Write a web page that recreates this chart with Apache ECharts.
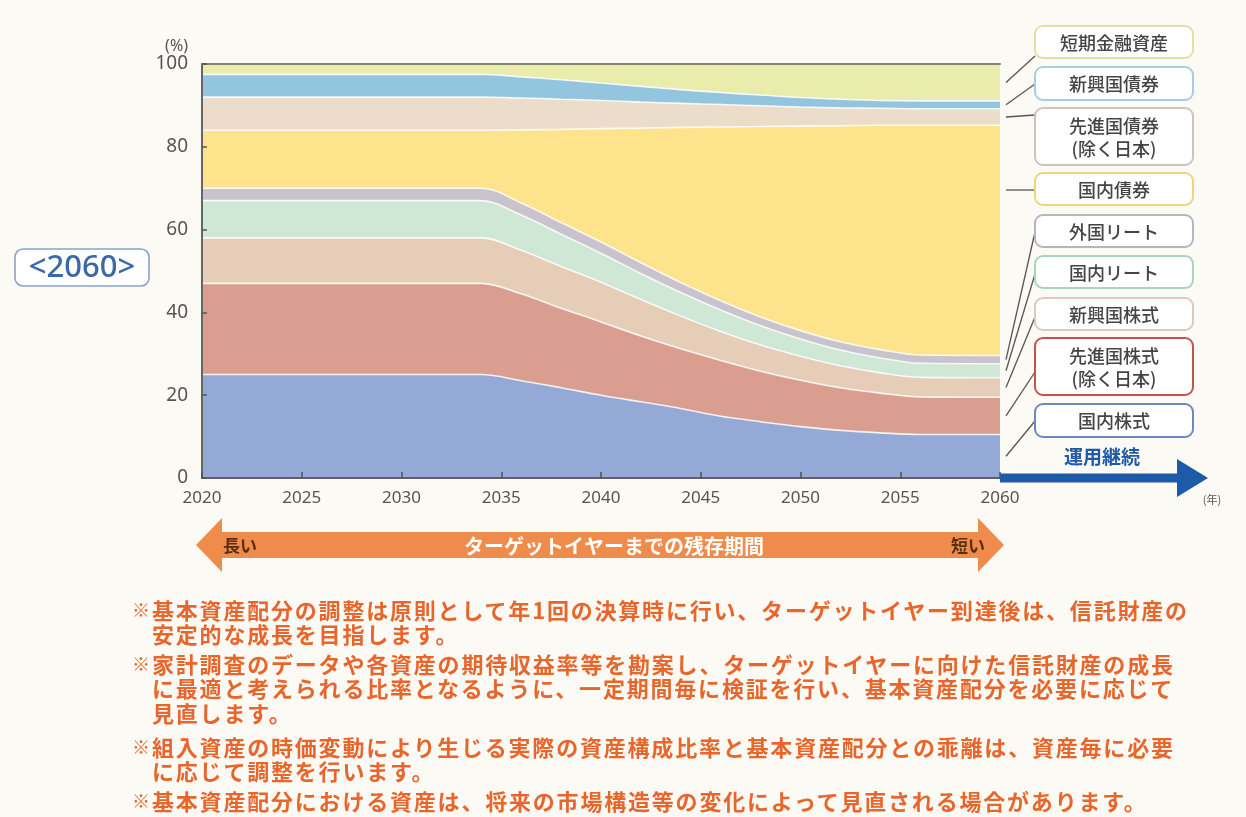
<!DOCTYPE html>
<html><head><meta charset="utf-8">
<script src="https://cdn.jsdelivr.net/npm/echarts@6/dist/echarts.min.js"></script>
<style>
html,body{margin:0;padding:0;background:#fcfaf4;}
#chart{position:absolute;left:0;top:0;width:1246px;height:817px;}
.note{position:absolute;font-family:"Noto Sans CJK JP";font-weight:700;font-size:22px;color:#e8662b;letter-spacing:1.8px;white-space:nowrap;line-height:24px;height:24px;}
</style></head><body>
<div id="chart"></div>
<div id="notes"></div>
<script>
// ---- data (percent of portfolio by year) ----
const years          = [2020, 2032, 2034, 2036, 2038, 2040, 2042, 2044, 2046, 2048, 2050, 2052, 2054, 2056, 2060];
const domesticStock  = [25, 25, 25, 23.5, 21.8, 20.0, 18.4, 16.8, 14.9, 13.6, 12.4, 11.5, 10.9, 10.5, 10.5];
const developedStock = [22, 22, 22, 21, 19.2, 17.7, 15.9, 14.4, 13.5, 12.2, 11.2, 10.3, 9.6, 9.1, 9.0];
const emergingStock  = [11, 11, 11, 10.5, 10.1, 9.6, 8.8, 7.9, 7.0, 6.3, 5.8, 5.3, 4.9, 4.7, 4.7];
const domesticReit   = [9, 9, 9, 8.5, 7.8, 7.0, 6.3, 5.7, 5.2, 4.7, 4.2, 3.8, 3.6, 3.4, 3.4];
const foreignReit    = [3, 3, 3, 2.9, 2.8, 2.7, 2.6, 2.4, 2.2, 2.1, 2.0, 2.0, 2.0, 2.0, 2.0];
const domesticBond   = [14, 14, 14, 17.7, 22.5, 27.4, 32.5, 37.5, 42.0, 46.0, 49.4, 52.2, 54.2, 55.5, 55.6];
const developedBond  = [8, 8, 8, 7.7, 7.3, 6.8, 6.3, 5.8, 5.4, 5.0, 4.6, 4.3, 4.1, 4.0, 4.0];
const emergingBond   = [5.5, 5.5, 5.5, 5.1, 4.7, 4.2, 3.8, 3.3, 2.9, 2.6, 2.3, 2.1, 1.9, 1.9, 1.9];
const shortTerm      = [2.5, 2.5, 2.5, 3.1, 3.8, 4.6, 5.4, 6.2, 6.9, 7.5, 8.1, 8.5, 8.8, 8.9, 8.9];

const yTicks = [0, 20, 40, 60, 80, 100];
const xTicks = [2020, 2025, 2030, 2035, 2040, 2045, 2050, 2055, 2060];

const assetNames  = ['国内株式', '先進国株式', '新興国株式', '国内リート', '外国リート', '国内債券', '先進国債券', '新興国債券', '短期金融資産'];
const legendTexts = ['国内株式', '先進国株式\n(除く日本)', '新興国株式', '国内リート', '外国リート', '国内債券', '先進国債券\n(除く日本)', '新興国債券', '短期金融資産'];
const assetData   = [domesticStock, developedStock, emergingStock, domesticReit, foreignReit, domesticBond, developedBond, emergingBond, shortTerm];

const bigLabel = '<2060>';
const arrowLeft = '長い', arrowMid = 'ターゲットイヤーまでの残存期間', arrowRight = '短い';
const continueLabel = '運用継続';
const yearUnit = '(年)';
const notes = [
  ['※', '基本資産配分の調整は原則として年1回の決算時に行い、ターゲットイヤー到達後は、信託財産の'],
  ['',  '安定的な成長を目指します。'],
  ['※', '家計調査のデータや各資産の期待収益率等を勘案し、ターゲットイヤーに向けた信託財産の成長'],
  ['',  'に最適と考えられる比率となるように、一定期間毎に検証を行い、基本資産配分を必要に応じて'],
  ['',  '見直します。'],
  ['※', '組入資産の時価変動により生じる実際の資産構成比率と基本資産配分との乖離は、資産毎に必要'],
  ['',  'に応じて調整を行います。'],
  ['※', '基本資産配分における資産は、将来の市場構造等の変化によって見直される場合があります。']
];

// ---- styles ----
const areaColors   = ['#94a9d5', '#d99e8f', '#e6cdb8', '#cfe7d5', '#c9c3cd', '#fde48c', '#ecdcca', '#93c6de', '#e9ecab'];
const borderColors = ['#6f87ba', '#c2544e', '#dbcabd', '#a9d5ba', '#b9b5bc', '#efd579', '#cdc5bd', '#a6cde0', '#dfe2a2'];
const boxTops      = [404, 338, 298, 256, 215, 173, 108, 67, 26];
const boxHeights   = [33, 57, 32, 32, 32, 32, 57, 33, 32];
const connectEndY  = [421, 372, 317, 274, 232, 190, 115, 84, 56];

const JP = '"Noto Sans CJK JP", "Noto Sans", sans-serif';

const chart = echarts.init(document.getElementById('chart'), null, {renderer: 'canvas'});

// cumulative tops (stacking built from the per-asset arrays)
const cumTop = [];
assetData.forEach((d, i) => {
  cumTop.push(d.map((v, k) => (i === 0 ? 0 : cumTop[i - 1][k]) + v));
});

const series = assetNames.map((name, i) => ({
  name: name,
  type: 'line',
  smooth: 0.35,
  symbol: 'none',
  data: years.map((y, k) => [y, cumTop[i][k]]),
  lineStyle: {color: 'rgba(255,255,255,0.85)', width: i === assetNames.length - 1 ? 0 : 1.6},
  areaStyle: {color: areaColors[i], opacity: 1, origin: 'start'},
  itemStyle: {color: areaColors[i]},
  z: 30 - i
}));

const option = {
  backgroundColor: '#fcfaf4',
  animation: false,
  textStyle: {fontFamily: JP},
  grid: {left: 202, right: 246, top: 64, bottom: 339},
  xAxis: [{
    type: 'value', min: xTicks[0], max: xTicks[xTicks.length - 1], interval: 5,
    axisLine: {lineStyle: {color: '#5c6068', width: 2}},
    axisTick: {inside: true, length: 6, lineStyle: {color: '#4c5058', width: 1.5}},
    axisLabel: {color: '#555', fontSize: 17, margin: 12, fontFamily: 'Noto Sans', formatter: v => String(v)},
    splitLine: {show: false}, z: 40
  }, {
    type: 'value', position: 'top', min: xTicks[0], max: xTicks[xTicks.length - 1],
    axisLine: {lineStyle: {color: '#86866f', width: 2}},
    axisTick: {show: false}, axisLabel: {show: false}, splitLine: {show: false}, z: 40
  }],
  yAxis: {
    type: 'value', min: yTicks[0], max: yTicks[yTicks.length - 1], interval: 20,
    name: '(%)', nameLocation: 'end', nameGap: 10,
    nameTextStyle: {color: '#555', fontSize: 16, align: 'right', padding: [0, 14, 0, 0], fontFamily: 'Noto Sans'},
    axisLine: {show: true, lineStyle: {color: '#666', width: 2}},
    axisTick: {show: true, inside: true, length: 5, lineStyle: {color: '#555', width: 1.5}},
    axisLabel: {color: '#555', fontSize: 19, margin: 14, fontFamily: 'Noto Sans'},
    splitLine: {show: false}, z: 40
  },
  series: series
};
chart.setOption(option);

// ---- annotations: legend boxes with connectors, arrows ----
const last = years.length - 1;
const toPx = (x, y) => chart.convertToPixel({xAxisIndex: 0, yAxisIndex: 0}, [x, y]);
const edge = toPx(years[last], 0);

const graphics = [];
// left big label
graphics.push({type: 'rect', shape: {x: 15, y: 249, width: 134, height: 37, r: 8},
  style: {fill: '#ffffff', stroke: '#8aa3c8', lineWidth: 1.6}, z: 50});
graphics.push({type: 'text', x: 82, y: 268, style: {text: bigLabel, fill: '#3b68a6', font: '500 31px "Noto Sans", sans-serif', align: 'center', verticalAlign: 'middle'}, z: 51});

assetNames.forEach((n, i) => {
  const bx = 1035, bw = 158;
  graphics.push({type: 'rect', shape: {x: bx, y: boxTops[i], width: bw, height: boxHeights[i], r: 8},
    style: {fill: '#ffffff', stroke: borderColors[i], lineWidth: 2}, z: 50});
  graphics.push({type: 'text', x: bx + bw / 2, y: boxTops[i] + boxHeights[i] / 2 + 1,
    style: {text: legendTexts[i], fill: '#444', font: '500 18px ' + JP, align: 'center', verticalAlign: 'middle', lineHeight: 23}, z: 51});
  const lo = i === 0 ? 0 : cumTop[i - 1][last];
  const mid = (lo + cumTop[i][last]) / 2;
  let sy = toPx(years[last], mid)[1];
  if (n === '国内債券') sy = connectEndY[i];
  graphics.push({type: 'line', shape: {x1: edge[0] + 6, y1: sy, x2: bx, y2: connectEndY[i]},
    style: {stroke: '#555', lineWidth: 1.3}, z: 49});
});

// blue continuation arrow
const ax = edge[0], ay = edge[1];
graphics.push({type: 'polygon', shape: {points: [[ax, ay - 4.5], [1177, ay - 4.5], [1177, ay - 19], [1208, ay], [1177, ay + 19], [1177, ay + 4.5], [ax, ay + 4.5]]},
  style: {fill: '#1d5aa7'}, z: 45});
graphics.push({type: 'text', x: 1102, y: 457, style: {text: continueLabel, fill: '#2159a6', font: 'bold 19px ' + JP, align: 'center', verticalAlign: 'middle'}, z: 51});
graphics.push({type: 'text', x: 1212, y: 500, style: {text: yearUnit, fill: '#555', font: '11px ' + JP, align: 'center', verticalAlign: 'middle'}, z: 51});

// orange double arrow
const oy = 545;
graphics.push({type: 'polygon', shape: {points: [[196, oy], [222, oy - 27], [222, oy - 13], [978, oy - 13], [978, oy - 27], [1004, oy], [978, oy + 27], [978, oy + 13], [222, oy + 13], [222, oy + 27]]},
  style: {fill: '#ef8c4b'}, z: 45});
graphics.push({type: 'text', x: 223, y: oy + 1, style: {text: arrowLeft, fill: '#5b2e10', font: 'bold 17px ' + JP, align: 'left', verticalAlign: 'middle'}, z: 51});
graphics.push({type: 'text', x: 614, y: oy + 1, style: {text: arrowMid, fill: '#ffffff', font: 'bold 20px ' + JP, align: 'center', verticalAlign: 'middle'}, z: 51});
graphics.push({type: 'text', x: 985, y: oy + 1, style: {text: arrowRight, fill: '#5b2e10', font: 'bold 17px ' + JP, align: 'right', verticalAlign: 'middle'}, z: 51});

chart.setOption({graphic: {elements: graphics}});

// ---- notes ----
const noteY = [609, 633, 663, 687, 712, 746, 770, 800];
const host = document.getElementById('notes');
notes.forEach((ln, i) => {
  if (ln[0]) {
    const m = document.createElement('div');
    m.className = 'note'; m.style.left = '132px'; m.style.top = (noteY[i] - 12) + 'px'; m.style.letterSpacing = '0'; m.style.fontSize = '18px';
    m.textContent = ln[0]; host.appendChild(m);
  }
  const d = document.createElement('div');
  d.className = 'note'; d.style.left = '152px'; d.style.top = (noteY[i] - 12) + 'px';
  d.textContent = ln[1]; host.appendChild(d);
});
</script>
</body></html>
